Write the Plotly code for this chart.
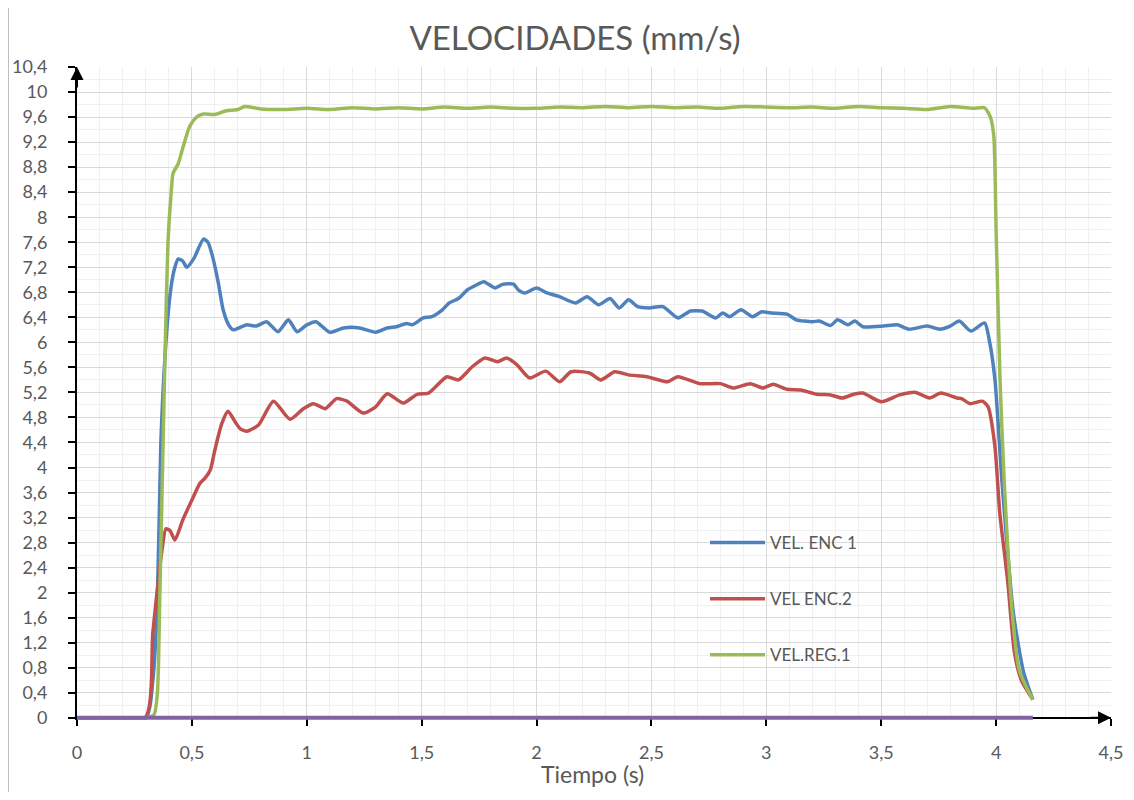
import plotly.graph_objects as go

# ---------------- data ----------------
enc1_t = [0, 0.3, 0.33, 0.35, 0.365, 0.39, 0.41, 0.426, 0.44, 0.46, 0.478, 0.51, 0.55, 0.57, 0.59,
          0.615, 0.636, 0.66, 0.68, 0.71, 0.74, 0.78, 0.825, 0.875, 0.92, 0.957, 1.0, 1.04, 1.1, 1.16,
          1.23, 1.3, 1.35, 1.39, 1.435, 1.46, 1.507, 1.544, 1.59, 1.62, 1.66, 1.70, 1.74, 1.77, 1.82,
          1.855, 1.9, 1.92, 1.95, 2.0, 2.045, 2.1, 2.17, 2.22, 2.27, 2.32, 2.36, 2.40, 2.44, 2.49,
          2.55, 2.615, 2.67, 2.72, 2.78, 2.81, 2.84, 2.89, 2.94, 2.98, 3.02, 3.09, 3.13, 3.2, 3.23,
          3.28, 3.31, 3.355, 3.385, 3.42, 3.51, 3.57, 3.62, 3.70, 3.755, 3.8, 3.84, 3.89, 3.95, 3.97,
          3.995, 4.025, 4.075, 4.12, 4.16]
enc1_v = [0, 0, 0.6, 1.9, 4.4, 6.15, 6.9, 7.2, 7.33, 7.3, 7.2, 7.35, 7.65, 7.6, 7.37,
          6.95, 6.52, 6.28, 6.2, 6.24, 6.28, 6.26, 6.33, 6.17, 6.36, 6.17, 6.28, 6.33, 6.16, 6.23,
          6.23, 6.16, 6.23, 6.25, 6.3, 6.28, 6.39, 6.41, 6.52, 6.63, 6.7, 6.84, 6.92, 6.97, 6.87,
          6.93, 6.93, 6.84, 6.79, 6.87, 6.79, 6.73, 6.63, 6.73, 6.6, 6.7, 6.55, 6.68, 6.57, 6.55,
          6.57, 6.39, 6.5, 6.5, 6.39, 6.47, 6.41, 6.52, 6.41, 6.49, 6.47, 6.45, 6.36, 6.33, 6.34,
          6.27, 6.36, 6.28, 6.34, 6.25, 6.26, 6.28, 6.21, 6.26, 6.21, 6.26, 6.34, 6.18, 6.31, 6.04,
          5.4, 3.8, 1.68, 0.72, 0.29]

enc2_t = [0, 0.296, 0.33, 0.37, 0.387, 0.405, 0.426, 0.46, 0.5, 0.535, 0.557, 0.58, 0.6, 0.63,
          0.657, 0.69, 0.71, 0.74, 0.79, 0.855, 0.927, 0.985, 1.03, 1.08, 1.13, 1.175, 1.245, 1.3,
          1.35, 1.42, 1.48, 1.53, 1.61, 1.66, 1.72, 1.775, 1.83, 1.87, 1.915, 1.97, 2.04, 2.1, 2.15,
          2.23, 2.28, 2.34, 2.40, 2.48, 2.57, 2.615, 2.71, 2.8, 2.855, 2.93, 2.985, 3.03, 3.09, 3.15,
          3.22, 3.28, 3.33, 3.38, 3.42, 3.5, 3.58, 3.65, 3.71, 3.76, 3.83, 3.85, 3.886, 3.94, 3.965,
          3.995, 4.016, 4.05, 4.08, 4.11, 4.16]
enc2_v = [0, 0, 1.36, 2.68, 3.02, 2.99, 2.84, 3.16, 3.48, 3.75, 3.83, 3.96, 4.28, 4.7,
          4.9, 4.72, 4.62, 4.58, 4.68, 5.06, 4.77, 4.94, 5.02, 4.94, 5.1, 5.06, 4.87, 4.97,
          5.18, 5.03, 5.17, 5.19, 5.45, 5.4, 5.61, 5.75, 5.69, 5.75, 5.64, 5.43, 5.54, 5.37, 5.53,
          5.51, 5.4, 5.53, 5.48, 5.45, 5.37, 5.45, 5.34, 5.34, 5.27, 5.34, 5.27, 5.33, 5.25, 5.24,
          5.17, 5.16, 5.11, 5.17, 5.19, 5.05, 5.16, 5.2, 5.11, 5.19, 5.11, 5.1, 5.02, 5.06, 4.97,
          4.33, 3.27, 2.2, 1.04, 0.6, 0.29]

reg1_t = [0, 0.3, 0.335, 0.35, 0.36, 0.37, 0.383, 0.396, 0.41, 0.418, 0.44, 0.46, 0.49, 0.52,
          0.55, 0.6, 0.65, 0.7, 0.73, 0.8, 0.9, 1.0, 1.1, 1.2, 1.3, 1.4, 1.5, 1.6, 1.7, 1.8, 1.9,
          2.0, 2.1, 2.2, 2.3, 2.4, 2.5, 2.6, 2.7, 2.8, 2.9, 3.0, 3.1, 3.2, 3.3, 3.4, 3.5, 3.6, 3.7,
          3.8, 3.9, 3.95, 3.975, 3.99, 4.0, 4.017, 4.035, 4.07, 4.1, 4.13, 4.16]
reg1_v = [0, 0, 0.05, 0.4, 1.88, 3.6, 5.8, 7.6, 8.4, 8.7, 8.85, 9.1, 9.45, 9.6,
          9.65, 9.64, 9.7, 9.72, 9.77, 9.73, 9.72, 9.74, 9.72, 9.75, 9.73, 9.75, 9.73, 9.76, 9.74, 9.76, 9.74,
          9.74, 9.76, 9.75, 9.77, 9.75, 9.77, 9.75, 9.76, 9.74, 9.77, 9.76, 9.75, 9.76, 9.74, 9.77, 9.75, 9.74, 9.72,
          9.77, 9.74, 9.75, 9.6, 9.3, 7.8, 5.4, 3.8, 1.68, 0.77, 0.5, 0.29]

zero_t = [0, 4.16]
zero_v = [0, 0]

series_names = ["VEL. ENC 1", "VEL ENC.2", "VEL.REG.1"]
x_ticks = [0, 0.5, 1, 1.5, 2, 2.5, 3, 3.5, 4, 4.5]

# ---------------- styling ----------------
FONT = "Lato"
TXT = "#595959"
OFF = 8  # page body margin
W, H = 1134 - 2 * OFF, 800 - 2 * OFF
Y_MIN, Y_MAX = -0.035, 10.4
PX_PER_UNIT = (718 - 67) / 10.4
ML, MT = 77 - OFF, 67 - OFF
MR = W - (1111 - OFF)
PLOT_BOTTOM = round(718 - OFF - Y_MIN * PX_PER_UNIT)
MB = H - PLOT_BOTTOM
PW, PH = W - ML - MR, H - MT - MB

fig = go.Figure()
for name, t, v, col in [(series_names[0], enc1_t, enc1_v, "#4F81BD"),
                        (series_names[1], enc2_t, enc2_v, "#C0504D"),
                        (series_names[2], reg1_t, reg1_v, "#9BBB59")]:
    fig.add_trace(go.Scatter(x=t, y=v, name=name, mode="lines", legendgroup=name,
                             line=dict(color=col, width=3.5, shape="spline", smoothing=0.6)))
fig.add_trace(go.Scatter(x=zero_t, y=zero_v, mode="lines", showlegend=False,
                         line=dict(color="#8064A2", width=4)))

zero_pos = (0 - Y_MIN) / (Y_MAX - Y_MIN)

fig.update_layout(
    width=W, height=H,
    margin=dict(l=ML, r=MR, t=MT, b=MB, autoexpand=False),
    paper_bgcolor="white", plot_bgcolor="white",
    separators=",.",
    font=dict(family=FONT, color=TXT, size=18),
    title=dict(text="VELOCIDADES (mm/s)", x=(575 - OFF) / W, xanchor="center",
               y=1 - (38 - OFF) / H, yanchor="middle", font=dict(size=33, color=TXT, family=FONT)),
    legend=dict(x=(705 - 77) / PW, y=(720 - 525) / PH, xanchor="left", yanchor="top",
                bgcolor="rgba(0,0,0,0)", traceorder="grouped", tracegroupgap=31,
                itemwidth=55, font=dict(size=17, color=TXT, family=FONT)),
    xaxis=dict(range=[0, 4.5], tickvals=x_ticks, showgrid=True, gridcolor="#D9D9D9", gridwidth=1.3,
               minor=dict(dtick=0.1, tick0=0, showgrid=True, gridcolor="#F0F0F0", gridwidth=1),
               zeroline=False, showline=True, linecolor="black", linewidth=2,
               ticks="outside", ticklen=7, tickwidth=2, tickcolor="black",
               anchor="free", position=zero_pos, layer="below traces",
               ticklabelstandoff=12, tickfont=dict(size=18, color=TXT)),
    yaxis=dict(range=[Y_MIN, Y_MAX], tick0=0, dtick=0.4, showgrid=True, gridcolor="#D9D9D9", gridwidth=1.3,
               minor=dict(dtick=0.2, tick0=0, showgrid=True, gridcolor="#F0F0F0", gridwidth=1),
               zeroline=False, showline=True, linecolor="black", linewidth=2,
               ticks="outside", ticklen=7, tickwidth=2, tickcolor="black",
               layer="below traces", ticklabelstandoff=17, tickfont=dict(size=18, color=TXT)),
)

# x-axis title (annotation; bottom-anchored so it stays inside the page)
fig.add_annotation(text="Tiempo (s)", xref="paper", yref="paper",
                   x=(592 - 77) / PW, y=-((790 - OFF) - PLOT_BOTTOM) / PH,
                   xanchor="center", yanchor="bottom", showarrow=False,
                   font=dict(size=23, color=TXT, family=FONT))

# axis arrows
fig.add_annotation(x=0, y=10.4, xref="x", yref="y", ax=0, ay=22, text="", showarrow=True,
                   arrowhead=2, arrowsize=1.3, arrowwidth=2, arrowcolor="black", standoff=0)
fig.add_annotation(x=4.5, y=0, xref="x", yref="y", ax=-22, ay=0, text="", showarrow=True,
                   arrowhead=2, arrowsize=1.3, arrowwidth=2, arrowcolor="black", standoff=0)

# chart-area border (left edge visible in reference)
fig.add_shape(type="line", xref="paper", yref="paper",
              x0=(8 - 77) / PW, x1=(8 - 77) / PW, y0=-MB / PH, y1=1 + MT / PH,
              line=dict(color="#BFBFBF", width=2))

fig.write_html("out.html")
